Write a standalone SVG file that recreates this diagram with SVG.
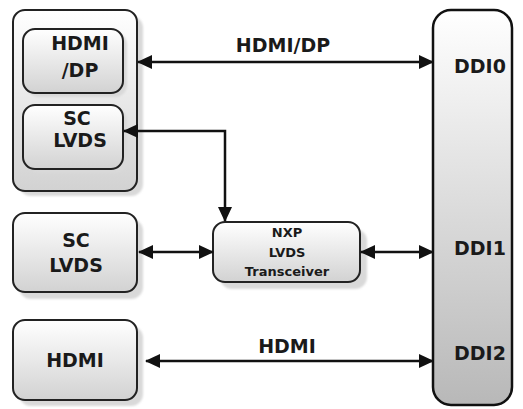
<svg xmlns="http://www.w3.org/2000/svg" width="523" height="409" viewBox="0 0 523 409">
  <defs>
    <linearGradient id="boxFill" x1="0" y1="0" x2="0" y2="1">
      <stop offset="0" stop-color="#ffffff"/>
      <stop offset="1" stop-color="#d2d2d2"/>
    </linearGradient>
    <linearGradient id="ddiFill" x1="0" y1="0" x2="0" y2="1">
      <stop offset="0" stop-color="#ffffff"/>
      <stop offset="1" stop-color="#b8b8b8"/>
    </linearGradient>
    <filter id="soft" x="-10%" y="-10%" width="130%" height="130%">
      <feGaussianBlur stdDeviation="1.2"/>
    </filter>
    <marker id="arrow" viewBox="0 0 15 14" refX="14" refY="7" markerWidth="15" markerHeight="14" markerUnits="userSpaceOnUse" orient="auto-start-reverse">
      <path d="M0,0 L15,7 L0,14 Z" fill="#111"/>
    </marker>
  </defs>
  <style>
    .box { fill: url(#boxFill); stroke: #222; stroke-width: 2; }
    .shadow { fill: #d9d9d9; filter: url(#soft); }
    .lbl { font-family: "DejaVu Sans", "Open Sans", sans-serif; font-weight: bold; font-size: 19px; fill: #1a1a1a; text-anchor: middle; }
    .small { font-size: 13px; }
    .wire { fill: none; stroke: #111; stroke-width: 2.5; marker-start: url(#arrow); marker-end: url(#arrow); }
  </style>

  <!-- processor-side group with two ports -->
  <g id="cpu-group">
    <rect class="shadow" x="19" y="16" width="124" height="180" rx="12"/>
    <rect class="box" x="13" y="10" width="124" height="181" rx="12"/>
  </g>
  <g id="port-hdmi-dp">
    <rect class="shadow" x="27" y="33" width="100" height="64" rx="12"/>
    <rect class="box" x="23" y="29" width="100" height="64" rx="12"/>
    <text class="lbl" x="80" y="50">HDMI</text>
    <text class="lbl" x="80" y="77">/DP</text>
  </g>
  <g id="port-sc-lvds">
    <rect class="shadow" x="27" y="109" width="100" height="64" rx="12"/>
    <rect class="box" x="23" y="105" width="100" height="64" rx="12"/>
    <text class="lbl" x="77" y="125">SC</text>
    <text class="lbl" x="80" y="147">LVDS</text>
  </g>

  <!-- standalone SC LVDS panel -->
  <g id="sc-lvds">
    <rect class="shadow" x="19" y="219" width="124" height="80" rx="12"/>
    <rect class="box" x="13" y="213" width="124" height="79" rx="12"/>
    <text class="lbl" x="76" y="247">SC</text>
    <text class="lbl" x="76" y="272">LVDS</text>
  </g>

  <!-- HDMI panel -->
  <g id="hdmi">
    <rect class="shadow" x="19" y="326" width="124" height="80" rx="12"/>
    <rect class="box" x="13" y="320" width="124" height="80" rx="12"/>
    <text class="lbl" x="75" y="367">HDMI</text>
  </g>

  <!-- LVDS transceiver -->
  <g id="nxp">
    <rect class="shadow" x="220" y="229" width="147" height="60" rx="12"/>
    <rect class="box" x="213" y="222" width="147" height="60" rx="12"/>
    <text class="lbl small" x="287" y="237">NXP</text>
    <text class="lbl small" x="287" y="257">LVDS</text>
    <text class="lbl small" x="287" y="276">Transceiver</text>
  </g>

  <!-- display interface block -->
  <g id="ddi">
    <rect x="433" y="10" width="79" height="395" rx="18" fill="url(#ddiFill)" stroke="#111" stroke-width="2.5"/>
    <text class="lbl" x="480" y="73">DDI0</text>
    <text class="lbl" x="480" y="255">DDI1</text>
    <text class="lbl" x="480" y="360">DDI2</text>
  </g>

  <!-- connectors -->
  <g id="connectors">
    <line class="wire" x1="138" y1="62" x2="433" y2="62"/>
    <path class="wire" d="M124,131 H225 V221"/>
    <line class="wire" x1="139" y1="252" x2="213" y2="252"/>
    <line class="wire" x1="361" y1="252" x2="433" y2="252"/>
    <line class="wire" x1="146" y1="361" x2="433" y2="361"/>
    <text class="lbl" x="283" y="52">HDMI/DP</text>
    <text class="lbl" x="287" y="353">HDMI</text>
  </g>
</svg>
